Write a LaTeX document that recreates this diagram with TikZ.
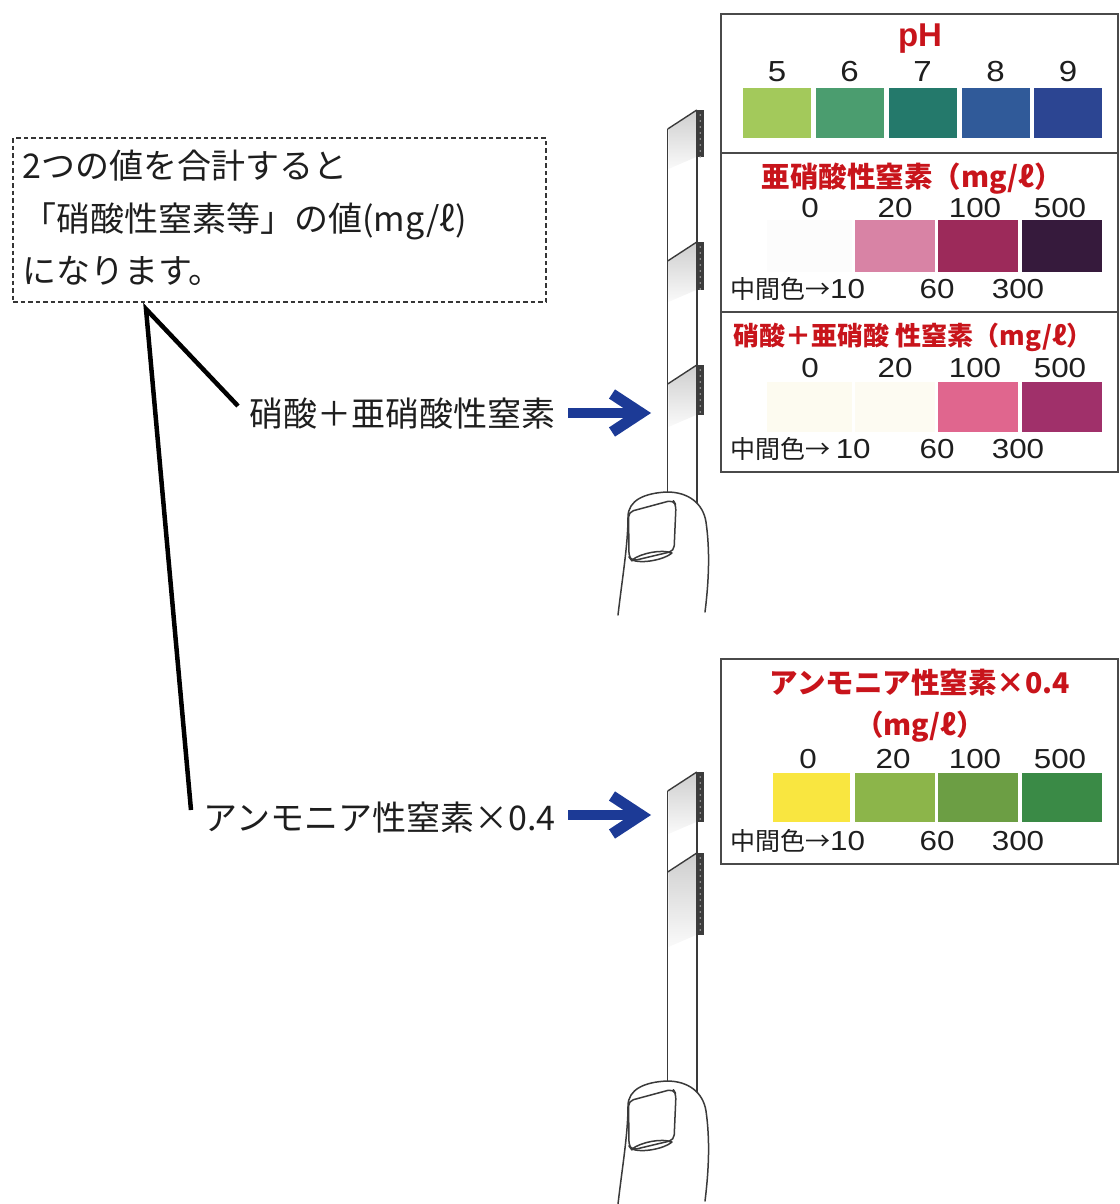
\documentclass[tikz,border=0pt]{standalone}
\usepackage{fontspec}
\setmainfont{Liberation Sans}
\newfontfamily\jp{Noto Sans CJK JP}
\newfontfamily\widesans{Liberation Sans}[FakeStretch=1.14]
\definecolor{ink}{HTML}{1E1E1E}
\definecolor{framegray}{HTML}{4A4A4A}
\definecolor{titlered}{HTML}{C8141B}
\definecolor{arrowblue}{HTML}{1C3A96}
\definecolor{stripline}{HTML}{3A3A3A}
\definecolor{padgray}{HTML}{3C3C3C}
% pH scale
\definecolor{phfive}{HTML}{A3C95B}
\definecolor{phsix}{HTML}{4B9D6F}
\definecolor{phseven}{HTML}{24796B}
\definecolor{pheight}{HTML}{305A99}
\definecolor{phnine}{HTML}{2C4592}
% nitrite scale
\definecolor{niA}{HTML}{FCFCFC}
\definecolor{niB}{HTML}{D883A5}
\definecolor{niC}{HTML}{9C2A5A}
\definecolor{niD}{HTML}{361A3C}
% nitrate + nitrite scale
\definecolor{ntA}{HTML}{FDFBF0}
\definecolor{ntB}{HTML}{FDFBF2}
\definecolor{ntC}{HTML}{E0668E}
\definecolor{ntD}{HTML}{A0306A}
% ammonium scale
\definecolor{amA}{HTML}{F9E640}
\definecolor{amB}{HTML}{8CB54A}
\definecolor{amC}{HTML}{6C9E44}
\definecolor{amD}{HTML}{3A8A46}
\begin{document}
\begin{tikzpicture}[x=1pt,y=-1pt,
  panel/.style={draw=framegray,line width=1.8,anchor=north west,inner sep=0},
  redtitle/.style={text=titlered,font={\jp\bfseries\fontsize{28.5}{30}\selectfont},inner sep=0,anchor=base},
  numlabel/.style={text=ink,font={\widesans\fontsize{27.5}{29}\selectfont},inner sep=0,anchor=base},
  phnum/.style={text=ink,font={\widesans\fontsize{29}{30}\selectfont},inner sep=0,anchor=base},
  midlabel/.style={text=ink,font={\jp\fontsize{25}{27}\selectfont},inner sep=0,anchor=base west},
  jplabel/.style={text=ink,font={\jp\fontsize{34}{36}\selectfont},inner sep=0},
  notebox/.style={draw=ink!90,line width=2.2,dash pattern=on 4.5pt off 3pt,anchor=north west,minimum width=533,minimum height=164,inner sep=0},
  leader/.style={draw=black,line width=4.5,line join=miter,miter limit=20},
  bluearrow/.style={draw=arrowblue,line width=10},
  chevron/.style={draw=arrowblue,line width=11,line join=miter,miter limit=10},
  stripedge/.style={draw=stripline,line width=1.4},
  fingerline/.style={draw=stripline,line width=1.5,line cap=round,line join=round},
  pics/thumb/.style={code={
    \path[fill=white] (618,615) .. controls (622,580) and (628,545) .. (628,517)
      .. controls (628,500) and (645,493) .. (667,492)
      .. controls (688,492) and (703,503) .. (706,522)
      .. controls (710,550) and (709,580) .. (705,612) -- cycle;
    \draw[fingerline] (618,615) .. controls (622,580) and (628,545) .. (628,517)
      .. controls (628,500) and (645,493) .. (667,492)
      .. controls (688,492) and (703,503) .. (706,522)
      .. controls (710,550) and (709,580) .. (705,612);
    \draw[fingerline,rounded corners=5] (629,557) -- (628.5,512) -- (673,500) -- (676,505)
      -- (674,551) -- (632,561) -- cycle;
    \draw[fingerline] (632,560) .. controls (641,553) and (662,549) .. (672,553)
      .. controls (664,560) and (641,564) .. (632,560);
  }}
]
\useasboundingbox (0,0) rectangle (1119,1204);

% ---------- test strips ----------
\foreach \top/\bot in {110/505, 772/1094} {
  \draw[stripedge] (667.7,\top+19) -- (667.7,\bot-10);
  \draw[stripedge] (696.8,\top) -- (696.8,\bot);
}
\foreach \yr/\h in {110/47,242/48,365/50,772/50,853/82} {
  \shade[top color=gray!38,bottom color=gray!4] (668.4,\yr+19.5) -- (696.2,\yr+1) -- (696.2,\yr+\h) -- (668.4,\yr+\h+12) -- cycle;
  \draw[stripedge] (667.7,\yr+19) -- (696.8,\yr);
  \fill[padgray] (696.3,\yr) rectangle (704,\yr+\h);
  \foreach \d in {5,11,...,\h} \fill[gray!70] (700.2,\yr+\d) circle[radius=0.9pt];
}
\pic at (0,0) {thumb};
\pic at (0,589) {thumb};

% ---------- note box and leader lines ----------
\node[notebox] (note) at (12,137) {};
\node[jplabel,anchor=base west] (noteA) at (22,178) {2つの値を合計すると};
\node[jplabel,anchor=base west] (noteB) at (22,231) {「硝酸性窒素等」の値(mg/ℓ)};
\node[jplabel,anchor=base west] (noteC) at (22,283) {になります。};

\node[jplabel,anchor=base east] (labN) at (556,426) {硝酸＋亜硝酸性窒素};
\node[jplabel,anchor=base east] (labA) at (556,830) {アンモニア性窒素×0.4};

\coordinate (apex) at (146,309);
\coordinate (leadN) at (238,406);
\coordinate (leadA) at (191,810);
\draw[leader] (leadN) -- (apex) -- (leadA);

% ---------- blue arrows ----------
\coordinate (arrNs) at (568,413);
\coordinate (arrNe) at (636,413);
\coordinate (arrNt) at (641,413);
\draw[bluearrow] (arrNs) -- (arrNe);
\draw[chevron] (612,394) -- (arrNt) -- (612,432);
\coordinate (arrAs) at (568,815);
\coordinate (arrAe) at (636,815);
\coordinate (arrAt) at (641,815);
\draw[bluearrow] (arrAs) -- (arrAe);
\draw[chevron] (612,796) -- (arrAt) -- (612,834);

% ---------- colour charts ----------
\node[panel,minimum width=397,minimum height=139] (phPanel) at (720,13) {};
\node[panel,minimum width=397,minimum height=159] (niPanel) at (720,152) {};
\node[panel,minimum width=397,minimum height=160] (ntPanel) at (720,311) {};
\node[panel,minimum width=397,minimum height=205] (amPanel) at (720,658) {};

% pH
\node[text=titlered,font={\fontsize{33}{34}\selectfont\bfseries},inner sep=0,anchor=base] (phT) at (920,47) {pH};
\foreach \c/\x/\v in {phfive/777/5, phsix/849.5/6, phseven/922.5/7, pheight/995.5/8, phnine/1068/9} {
  \fill[\c] (\x-34,88) rectangle (\x+34,138);
  \node[phnum] at (\x,82) {\v};
}

% nitrite
\node[redtitle] (niT) at (912,187) {亜硝酸性窒素（mg/ℓ）};
\fill[niA] (767,220) rectangle (852,272);
\fill[niB] (855,220) rectangle (935,272);
\fill[niC] (938,220) rectangle (1018,272);
\fill[niD] (1022,220) rectangle (1102,272);
\foreach \x/\v in {810/0, 895/20, 975/100, 1060/500} \node[numlabel] at (\x,217) {\v};
\node[midlabel] (niM) at (730,298) {中間色→{\widesans\fontsize{27.5}{29}\selectfont 10}};
\node[numlabel] at (937,298) {60};
\node[numlabel] at (1018,298) {300};

% nitrate + nitrite
\node[redtitle,font={\jp\bfseries\fontsize{26}{30}\selectfont}] (ntT) at (913,345) {硝酸＋亜硝酸 性窒素（mg/ℓ）};
\fill[ntA] (767,382) rectangle (852,432);
\fill[ntB] (855,382) rectangle (935,432);
\fill[ntC] (938,382) rectangle (1018,432);
\fill[ntD] (1022,382) rectangle (1102,432);
\foreach \x/\v in {810/0, 895/20, 975/100, 1060/500} \node[numlabel] at (\x,377) {\v};
\node[midlabel] (ntM) at (730,458) {中間色→ {\widesans\fontsize{27.5}{29}\selectfont 10}};
\node[numlabel] at (937,458) {60};
\node[numlabel] at (1018,458) {300};

% ammonium
\node[redtitle] (amT) at (920,693) {アンモニア性窒素×0.4};
\node[redtitle] (amU) at (920,735) {（mg/ℓ）};
\fill[amA] (773,773) rectangle (850,822);
\fill[amB] (855,773) rectangle (935,822);
\fill[amC] (938,773) rectangle (1018,822);
\fill[amD] (1022,773) rectangle (1102,822);
\foreach \x/\v in {808/0, 893/20, 975/100, 1060/500} \node[numlabel] at (\x,768) {\v};
\node[midlabel] (amM) at (730,850) {中間色→{\widesans\fontsize{27.5}{29}\selectfont 10}};
\node[numlabel] at (937,850) {60};
\node[numlabel] at (1018,850) {300};
\end{tikzpicture}
\end{document}
